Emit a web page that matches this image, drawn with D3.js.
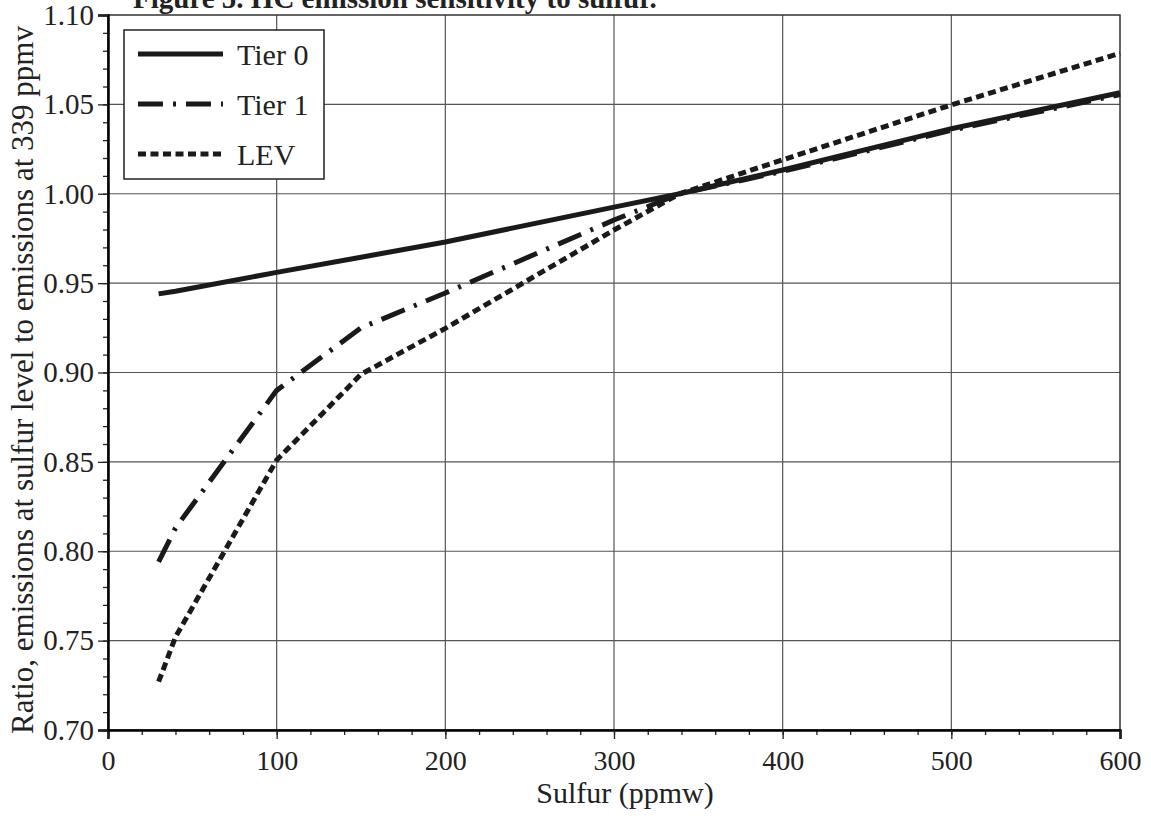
<!DOCTYPE html>
<html>
<head>
<meta charset="utf-8">
<script src="https://cdn.jsdelivr.net/npm/d3@7"></script>
<style>
  body { margin: 0; background: #fff; }
  text { font-family: "Liberation Serif", "Times New Roman", serif; fill: #222; }
</style>
</head>
<body>
<div id="chart"></div>
<script>
// sulfur levels (ppmw) and emission ratios
const sulfur = [30, 40, 100, 150, 200, 300, 339, 400, 500, 600]
const tier0 = [0.944, 0.9455, 0.956, 0.9645, 0.973, 0.9925, 1.0, 1.0133, 1.0364, 1.0565]
const tier1 = [0.794, 0.813, 0.890, 0.925, 0.9445, 0.9853, 1.0, 1.0125, 1.0355, 1.0555]
const lev = [0.727, 0.752, 0.851, 0.899, 0.9247, 0.9797, 1.0, 1.019, 1.0497, 1.0786]

const seriesNames = ["Tier 0", "Tier 1", "LEV"]
const xTicks = [0, 100, 200, 300, 400, 500, 600]
const yTicks = [0.70, 0.75, 0.80, 0.85, 0.90, 0.95, 1.00, 1.05, 1.10]

const width = 1151
const height = 818
const margin = ({ top: 15, right: 31, bottom: 88, left: 108 })

const dashes = ["none", "25,10,3,10", "8,4.5"]

const series = [tier0, tier1, lev].map((vals, k) => ({
    name: seriesNames[k],
    dash: dashes[k],
    values: vals.map((v, i) => ({ s: sulfur[i], r: v }))
}))

const x = d3.scaleLinear()
    .domain([0, 600])
    .range([margin.left, width - margin.right])

const y = d3.scaleLinear()
    .domain([0.70, 1.10])
    .range([height - margin.bottom, margin.top])

const svg = d3.select("#chart")
    .append("svg")
    .attr("width", width)
    .attr("height", height)

// grid
svg.append("g")
    .attr("stroke", "#555")
    .attr("stroke-width", 1.2)
    .call(g => g.selectAll("line.v")
        .data(xTicks.slice(1, -1))
        .join("line")
        .attr("class", "v")
        .attr("x1", d => x(d)).attr("x2", d => x(d))
        .attr("y1", y(1.10)).attr("y2", y(0.70)))
    .call(g => g.selectAll("line.h")
        .data(yTicks.slice(1, -1))
        .join("line")
        .attr("class", "h")
        .attr("x1", x(0)).attr("x2", x(600))
        .attr("y1", d => y(d)).attr("y2", d => y(d)))

// frame
svg.append("rect")
    .attr("x", x(0)).attr("y", y(1.10))
    .attr("width", x(600) - x(0))
    .attr("height", y(0.70) - y(1.10))
    .attr("fill", "none")
    .attr("stroke", "#333")
    .attr("stroke-width", 1.5)

// axes
const xAxis = g => g
    .attr("transform", `translate(0,${y(0.70)})`)
    .call(d3.axisBottom(x).tickValues(d3.range(0, 601, 20)).tickSize(5).tickFormat(""))
    .call(g => g.select(".domain").remove())
    .call(g => g.append("g")
        .call(d3.axisBottom(x).tickValues(xTicks).tickSize(9).tickPadding(11).tickFormat(d3.format("d")))
        .call(g => g.select(".domain").attr("stroke-width", 2.5))
        .call(g => g.selectAll("text").attr("font-size", 28).attr("fill", "#222")
            .style("font-family", "Liberation Serif")))
    .call(g => g.selectAll("line").attr("stroke", "#222").attr("stroke-width", 1.3))

const yAxis = g => g
    .attr("transform", `translate(${x(0)},0)`)
    .call(d3.axisLeft(y).tickValues(d3.range(70, 111).map(d => d / 100)).tickSize(5).tickFormat(""))
    .call(g => g.select(".domain").remove())
    .call(g => g.append("g")
        .call(d3.axisLeft(y).tickValues(yTicks).tickSize(10).tickPadding(4).tickFormat(d3.format(".2f")))
        .call(g => g.select(".domain").attr("stroke-width", 2.5))
        .call(g => g.selectAll("text").attr("font-size", 29).attr("fill", "#222")
            .style("font-family", "Liberation Serif")))
    .call(g => g.selectAll("line").attr("stroke", "#222").attr("stroke-width", 1.3))

svg.append("g").call(xAxis)
svg.append("g").call(yAxis)

// lines
const line = d3.line()
    .x(d => x(d.s))
    .y(d => y(d.r))

svg.append("g")
    .attr("fill", "none")
    .attr("stroke", "#1a1a1a")
    .attr("stroke-width", 5)
    .selectAll("path")
    .data(series.slice().reverse())
    .join("path")
    .attr("stroke-dasharray", d => d.dash)
    .attr("d", d => line(d.values))

// legend
const legend = svg.append("g")
legend.append("rect")
    .attr("x", 124).attr("y", 30)
    .attr("width", 200).attr("height", 149)
    .attr("fill", "#fff")
    .attr("stroke", "#222")
    .attr("stroke-width", 1.5)

const item = legend.selectAll("g")
    .data(series)
    .join("g")
    .attr("transform", (d, i) => `translate(0,${54 + i * 50})`)

item.append("line")
    .attr("x1", 138).attr("x2", 223)
    .attr("stroke", "#1a1a1a")
    .attr("stroke-width", 5)
    .attr("stroke-dasharray", d => d.dash)

item.append("text")
    .attr("x", 237)
    .attr("dy", "0.35em")
    .attr("font-size", 30)
    .text(d => d.name)

// titles
svg.append("text")
    .attr("x", 133)
    .attr("y", 8)
    .attr("font-size", 29)
    .attr("font-weight", "bold")
    .text("Figure 5. HC emission sensitivity to sulfur.")

svg.append("text")
    .attr("x", 625)
    .attr("y", 803)
    .attr("text-anchor", "middle")
    .attr("font-size", 30)
    .text("Sulfur (ppmw)")

svg.append("text")
    .attr("transform", `translate(33,380) rotate(-90)`)
    .attr("text-anchor", "middle")
    .attr("font-size", 31)
    .text("Ratio, emissions at sulfur level to emissions at 339 ppmv")
</script>
</body>
</html>
